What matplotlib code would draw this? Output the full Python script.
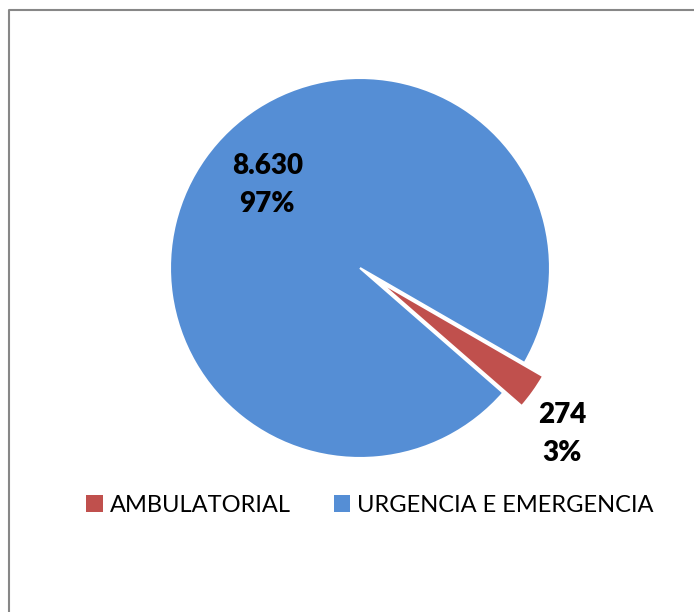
import matplotlib
matplotlib.use("Agg")
import matplotlib.pyplot as plt
import numpy as np
from matplotlib.lines import Line2D
from matplotlib.patches import Patch

# Data
categories = ["AMBULATORIAL", "URGENCIA E EMERGENCIA"]
values = [274, 8630]
colors = ["#C0504D", "#558ED5"]
explode = [0.12, 0.0]
label_dist = [1.376, 0.656]
label_shift = [-3.9, -6.3]   # degrees, relative to the wedge mid angle

plt.rcParams["font.family"] = ["Lato", "DejaVu Sans"]

W, H = 694, 612
fig = plt.figure(figsize=(W / 100, H / 100), dpi=100)

# pie axes: centre (360, 268) px, radius 190 px
cx, cy, r, lim = 360, 268, 190, 1.3
half = r * lim
ax = fig.add_axes([(cx - half) / W, (H - cy - half) / H, 2 * half / W, 2 * half / H])
wedges, _ = ax.pie(values, colors=colors, explode=explode, startangle=-30,
                   counterclock=False,
                   wedgeprops=dict(edgecolor="white", linewidth=1.5))
ax.set_xlim(-lim, lim)
ax.set_ylim(-lim, lim)
ax.set_aspect("equal")
ax.axis("off")

total = sum(values)
for w, v, d, s in zip(wedges, values, label_dist, label_shift):
    mid = np.deg2rad((w.theta1 + w.theta2) / 2 + s)
    txt = f"{v:,}".replace(",", ".") + f"\n{v / total:.0%}"
    ax.text(d * np.cos(mid), d * np.sin(mid), txt, ha="center", va="center",
            fontsize=20, fontweight="heavy", linespacing=1.6, color="black")

handles = [Patch(facecolor=c, edgecolor="none") for c in colors]
fig.legend(handles, categories, loc="center", bbox_to_anchor=(370 / W, 1 - 505 / H),
           ncol=2, frameon=False, fontsize=17, handlelength=0.7, handleheight=0.7,
           handletextpad=0.3, columnspacing=1.8)

# chart border (left and top edges visible)
bx, by = 9 / W, 1 - 10 / H
fig.add_artist(Line2D([bx, bx, 1], [0, by, by], transform=fig.transFigure,
                      color="#878787", linewidth=1.5))

fig.savefig("out.png", dpi=100, facecolor="white")
